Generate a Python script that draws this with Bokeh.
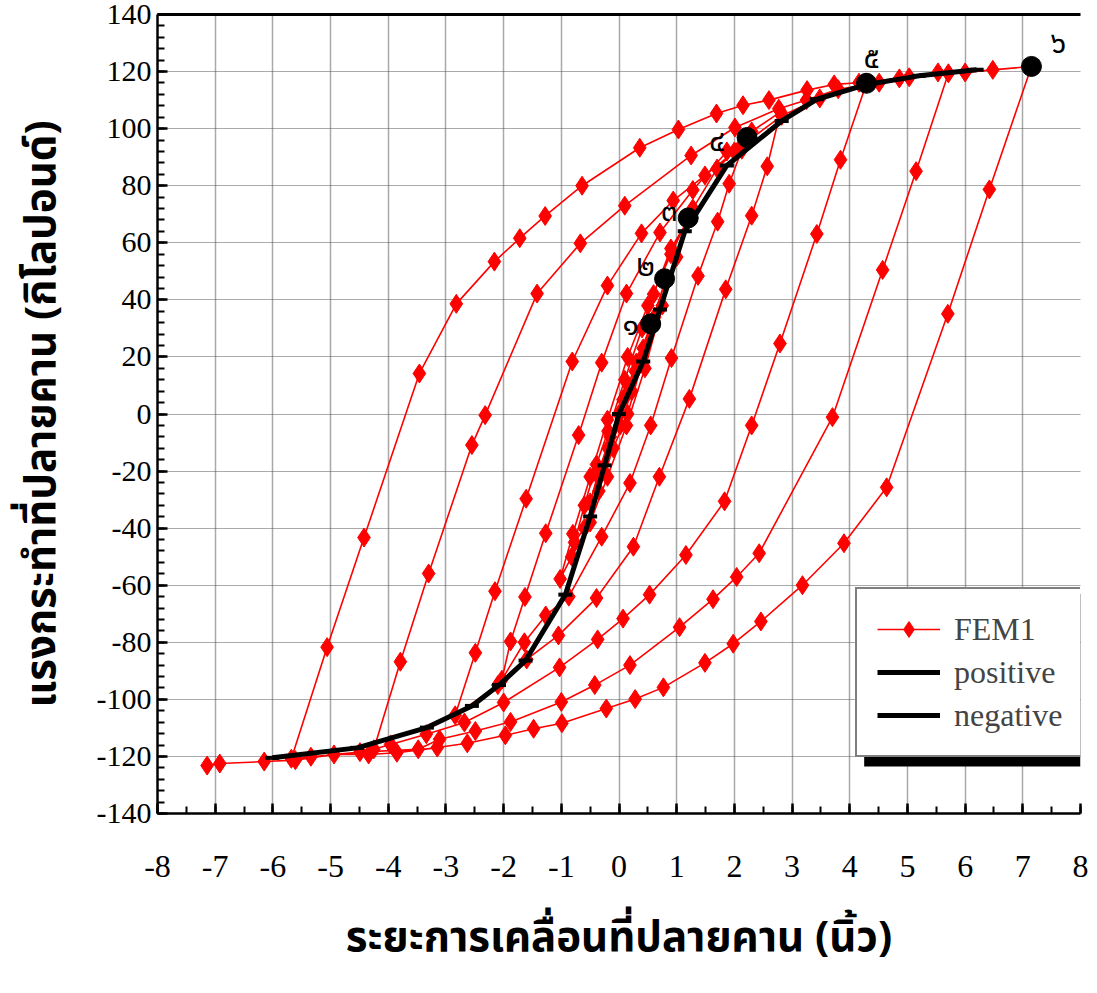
from bokeh.plotting import figure
from bokeh.models import (ColumnDataSource, LinearAxis, Legend, LegendItem, BoxAnnotation,
                          Range1d, SingleIntervalTicker, FixedTicker)
from bokeh.core.properties import value
from bokeh.embed import file_html
from bokeh.resources import INLINE

# ---------------- data ----------------
fem_x = [0, 0.13, 0.28, 0.42, 0.55,
         0.4, 0.22, 0.02, -0.19, -0.36, -0.5,
         -0.35, -0.15, 0.07, 0.3, 0.55, 0.79,
         0.62, 0.4, 0.15, -0.1, -0.35, -0.6, -0.77,
         -0.6, -0.39, -0.19, 0.1, 0.4, 0.6, 0.9, 1.2,
         1.0, 0.75, 0.45, 0.13, -0.2, -0.5, -0.82, -1.02,
         -0.8, -0.5, -0.2, 0.15, 0.5, 0.9, 1.28, 1.7, 2.0, 2.22,
         2.13, 1.91, 1.71, 1.37, 0.91, 0.55, 0.19, -0.3, -0.87, -1.27, -1.64, -2.03,
         -1.88, -1.63, -1.27, -0.70, -0.3, 0.13, 0.71, 1.28, 1.87, 2.3, 2.8,
         2.57, 2.30, 1.85, 1.22, 0.7, 0.25, -0.39, -1.05, -1.6, -2.1, -2.84,
         -2.49, -2.15, -1.61, -0.81, -0.2, 0.39, 0.94, 1.49, 2.13, 2.82, 3.48, 4.29,
         3.84, 3.43, 2.79, 2.3, 1.83, 1.16, 0.53, 0.07, -0.37, -1.03, -2.0, -2.68, -3.34, -3.96, -4.25,
         -3.79, -3.30, -2.55, -2.32, -1.42, -0.67, 0.10, 1.25, 2.01, 2.77, 3.25, 3.80, 4.51, 5.03, 5.71,
         5.15, 4.57, 3.70, 2.43, 2.04, 1.63, 1.05, 0.19, -0.42, -1.0, -1.88, -2.49, -3.11, -3.48, -4.49, -5.34, -5.68,
         -5.06, -4.42, -3.46, -2.82, -2.16, -1.72, -1.28, -0.64, 0.36, 1.03, 1.69, 2.15, 2.60, 3.26, 3.73, 4.16, 4.86, 5.53, 6.0, 6.48, 7.15,
         6.42, 5.70, 4.64, 3.90, 3.18, 2.46, 1.98, 1.49, 0.77, 0.28, -0.22, -0.99, -1.48, -1.97, -2.63, -3.15, -3.85, -4.34, -4.94, -5.61, -6.15, -6.92, -7.14]
fem_y = [0, 6.9, 15, 23, 30.5,
         20, 8, -4, -12, -22, -31,
         -20, -8, 5, 18, 31, 46,
         34, 18, 0, -12, -27, -40, -45,
         -32, -17.7, -6, 12, 30, 42, 58, 68,
         55, 38, 16, -4, -22, -38, -50, -57.8,
         -42, -22, -2, 20, 38, 56, 72, 86, 92, 96.5,
         92.6, 80.7, 67.4, 48.4, 19.6, -4, -24.2, -43, -64, -70.6, -80, -93.1,
         -79.7, -64.1, -41.8, -7.4, 18, 42.2, 63.6, 78.5, 92, 99, 105.9,
         86.8, 69.5, 43.7, 5.3, -22, -46.5, -64.5, -77.6, -86, -95, -105.6,
         -83.7, -62.1, -29.7, 18.4, 45, 63.3, 74.8, 83.6, 94, 104.5, 110.6, 115.9,
         89.1, 63.1, 24.7, -4, -30.6, -49.4, -63.3, -71.7, -79.0, -88.8, -101.1, -108.1, -112.2, -115.8, -117.5,
         -86.8, -55.9, -10.9, -0.4, 42.2, 59.8, 73.0, 90.6, 100.4, 107, 110, 113.8, 116.1, 118, 119.4,
         85.1, 50.5, -1.1, -48.8, -57.1, -64.9, -74.7, -88, -95.0, -100.9, -107.9, -111.1, -114, -117.5, -118.5, -120.1, -120.8,
         -81.7, -43.3, 14.2, 38.6, 53.4, 61.6, 69.4, 80.0, 93.3, 99.7, 105.3, 108.2, 110, 113.5, 115.5, 116.1, 117.6, 119.7, 119.7, 120.6, 121.8,
         78.7, 35.1, -25.7, -45.3, -60, -72.7, -80.5, -87.2, -95.8, -99.9, -103.2, -108.4, -110.3, -112.6, -115.4, -116.9, -118.7, -119.3, -119.3, -121.3, -121.8, -122.5, -123.2]

pos_x = [0, 0.42, 0.71, 1.14, 1.87, 2.82, 3.43, 4.3, 5.2, 6.2]
pos_y = [0, 18.4, 36.6, 64, 87.1, 102.7, 110.3, 115.5, 118.5, 120.6]
neg_x = [0, -0.25, -0.50, -0.93, -1.62, -2.08, -2.55, -3.33, -4.54, -6.01]
neg_y = [0, -18, -35.9, -63.3, -86.4, -95, -102.3, -109.9, -117, -120.5]

peak_x = [0.55, 0.79, 1.20, 2.22, 4.29, 7.15]
peak_y = [31.6, 47.4, 68.7, 96.9, 115.9, 121.8]
peak_labels = ["๑", "๒", "๓", "๔", "๕", "๖"]

x_ticks = [-8, -7, -6, -5, -4, -3, -2, -1, 0, 1, 2, 3, 4, 5, 6, 7, 8]
x_tick_labels = ["-8", "-7", "-6", "-5", "-4", "-3", "-2", "-1", "0", "1", "2", "3", "4", "5", "6", "7", "8"]
y_ticks = [-140, -120, -100, -80, -60, -40, -20, 0, 20, 40, 60, 80, 100, 120, 140]
y_tick_labels = ["-140", "-120", "-100", "-80", "-60", "-40", "-20", "0", "20", "40", "60", "80", "100", "120", "140"]

x_title = "ระยะการเคลื่อนที่ปลายคาน (นิ้ว)"
y_title = "แรงกระทำที่ปลายคาน (กิโลปอนด์)"
series_names = ["FEM1", "positive", "negative"]

# label offsets (screen px) for the numbered peak markers
lab_dx = [-20, -19, -19, -30, 5, 27]
lab_dy = [2, -12, -6, 5, -24, -22]

SERIF = "Liberation Serif, Times New Roman, serif"
THAI = "Noto Sans Thai, Loma, Garuda, Noto Sans, DejaVu Sans, sans-serif"

p = figure(width=1097, height=993, x_range=Range1d(-8, 8), y_range=Range1d(-140, 140),
           output_backend="svg", toolbar_location=None,
           min_border_left=157, min_border_right=17, min_border_top=14, min_border_bottom=180)
p.outline_line_color = None
p.background_fill_color = "white"
p.border_fill_color = "white"

# axes
p.xaxis.ticker = SingleIntervalTicker(interval=1, num_minor_ticks=2)
p.yaxis.ticker = SingleIntervalTicker(interval=20, num_minor_ticks=5)
p.xaxis.major_label_overrides = {t: l for t, l in zip(x_ticks, x_tick_labels)}
p.yaxis.major_label_overrides = {t: l for t, l in zip(y_ticks, y_tick_labels)}
for ax in (p.xaxis, p.yaxis):
    ax.axis_line_width = 2.5
    ax.axis_line_color = "black"
    ax.major_tick_in = 10
    ax.major_tick_out = 0
    ax.minor_tick_in = 7
    ax.minor_tick_out = 0
    ax.major_tick_line_width = 2.5
    ax.minor_tick_line_width = 2
    ax.major_tick_line_color = "black"
    ax.minor_tick_line_color = "black"
    ax.major_label_text_font = SERIF
    ax.major_label_text_color = "black"
    ax.axis_label_text_font = THAI
    ax.axis_label_text_font_style = "bold"
    ax.axis_label_text_color = "black"
p.xaxis.major_label_text_font_size = "32px"
p.yaxis.major_label_text_font_size = "30px"
p.xaxis.major_label_standoff = 42
p.yaxis.major_label_standoff = 6
p.xaxis.axis_label = x_title
p.yaxis.axis_label = y_title
p.xaxis.axis_label_text_font_size = "42px"
p.yaxis.axis_label_text_font_size = "42px"
p.xaxis.axis_label_standoff = 26
p.yaxis.axis_label_standoff = 20

top = LinearAxis(ticker=FixedTicker(ticks=[]), major_tick_line_color=None,
                 minor_tick_line_color=None, axis_line_width=3, axis_line_color="black")
p.add_layout(top, "above")

# grid
p.xgrid.grid_line_color = "#a8a8a8"
p.xgrid.grid_line_width = 1.5
p.ygrid.grid_line_color = "#555555"
p.ygrid.grid_line_width = 1.2
p.ygrid.grid_line_dash = "1 1"

# FEM1
fem = ColumnDataSource(dict(x=fem_x, y=fem_y))
fem_line = p.line("x", "y", source=fem, line_color="red", line_width=1.6)
fem_mark = p.scatter("x", "y", source=fem, marker="diamond", size=19,
                     fill_color="red", line_color="red")

# backbones
pos = ColumnDataSource(dict(x=pos_x, y=pos_y))
neg = ColumnDataSource(dict(x=neg_x, y=neg_y))
pos_line = p.line("x", "y", source=pos, line_color="black", line_width=5)
pos_mark = p.scatter("x", "y", source=pos, marker="dash", size=14, line_color="black", line_width=4)
neg_line = p.line("x", "y", source=neg, line_color="black", line_width=5)
neg_mark = p.scatter("x", "y", source=neg, marker="dash", size=14, line_color="black", line_width=4)

# numbered peak points
pk = ColumnDataSource(dict(x=peak_x, y=peak_y, t=peak_labels, dx=lab_dx, dy=lab_dy))
p.scatter("x", "y", source=pk, marker="circle", size=20, fill_color="black", line_color="black")
p.text("x", "y", text="t", source=pk, x_offset="dx", y_offset="dy",
       text_font=value(THAI), text_font_size="30px", text_align="center",
       text_baseline="middle", text_color="black")

# legend shadow + legend
shadow = BoxAnnotation(left=4.25, right=8.0, top=-63.0, bottom=-123.5,
                       fill_color="black", fill_alpha=1, line_color=None)
p.add_layout(shadow)
legend = Legend(items=[LegendItem(label=series_names[0], renderers=[fem_line, fem_mark]),
                       LegendItem(label=series_names[1], renderers=[pos_line]),
                       LegendItem(label=series_names[2], renderers=[neg_line])],
                location=(698, 56), orientation="vertical",
                label_text_font=SERIF, label_text_font_size="32px",
                glyph_width=63, glyph_height=40, label_height=40, label_standoff=14,
                spacing=3, padding=20, margin=0,
                border_line_color="black", border_line_width=2,
                background_fill_color="white", background_fill_alpha=1)
p.add_layout(legend)

open("out.html", "w").write(file_html(p, INLINE))
